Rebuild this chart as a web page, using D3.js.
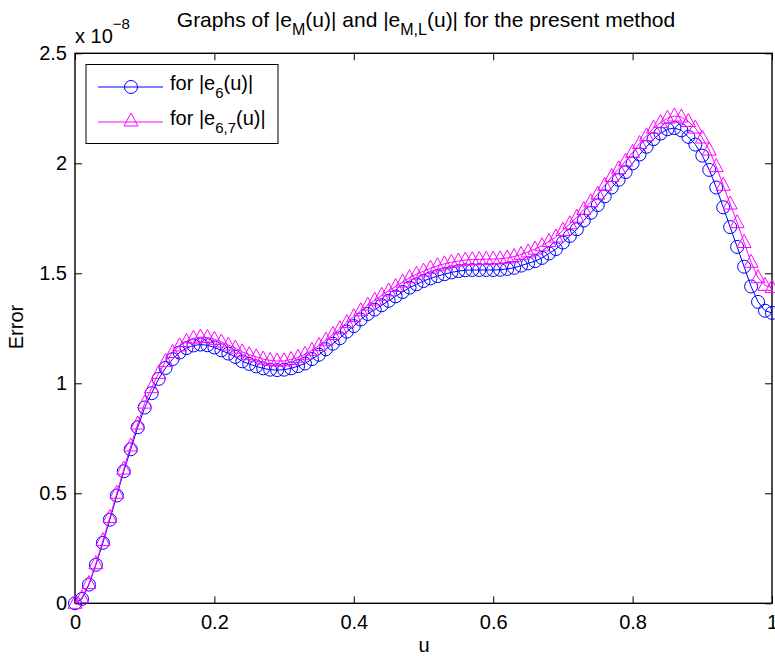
<!DOCTYPE html>
<html>
<head>
<meta charset="utf-8">
<script src="https://cdn.jsdelivr.net/npm/d3@7"></script>
<style>
  body { margin: 0; background: #fff; }
  svg { display: block; font-family: "Liberation Sans", Arial, Helvetica, sans-serif; }
</style>
</head>
<body>
<svg id="chart" width="775" height="656"></svg>
<script>
// ---- data (values in units of 1e-8) ----
const u = [0,0.01,0.02,0.03,0.04,0.05,0.06,0.07,0.08,0.09,
  0.10,0.11,0.12,0.13,0.14,0.15,0.16,0.17,0.18,0.19,
  0.20,0.21,0.22,0.23,0.24,0.25,0.26,0.27,0.28,0.29,
  0.30,0.31,0.32,0.33,0.34,0.35,0.36,0.37,0.38,0.39,
  0.40,0.41,0.42,0.43,0.44,0.45,0.46,0.47,0.48,0.49,
  0.50,0.51,0.52,0.53,0.54,0.55,0.56,0.57,0.58,0.59,
  0.60,0.61,0.62,0.63,0.64,0.65,0.66,0.67,0.68,0.69,
  0.70,0.71,0.72,0.73,0.74,0.75,0.76,0.77,0.78,0.79,
  0.80,0.81,0.82,0.83,0.84,0.85,0.86,0.87,0.88,0.89,
  0.90,0.91,0.92,0.93,0.94,0.95,0.96,0.97,0.98,0.99,1.00];

const errM = [0,0.02,0.085,0.175,0.275,0.38,0.49,0.60,0.70,0.80,
  0.89,0.955,1.02,1.07,1.11,1.14,1.16,1.172,1.176,1.173,
  1.163,1.15,1.135,1.12,1.10,1.088,1.077,1.068,1.062,1.06,
  1.062,1.068,1.078,1.09,1.11,1.13,1.155,1.18,1.205,1.235,
  1.26,1.29,1.315,1.335,1.355,1.375,1.395,1.415,1.435,1.45,
  1.465,1.477,1.487,1.496,1.504,1.51,1.514,1.515,1.515,1.515,
  1.515,1.516,1.52,1.525,1.535,1.545,1.555,1.57,1.59,1.61,
  1.64,1.67,1.70,1.74,1.775,1.81,1.85,1.89,1.925,1.96,
  2.00,2.04,2.075,2.11,2.135,2.155,2.16,2.15,2.12,2.085,
  2.035,1.97,1.89,1.80,1.71,1.62,1.53,1.44,1.37,1.33,1.32];

const errML = [0,0.025,0.09,0.18,0.285,0.39,0.50,0.61,0.715,0.815,
  0.91,0.98,1.045,1.10,1.14,1.17,1.19,1.205,1.21,1.208,
  1.20,1.188,1.174,1.16,1.143,1.13,1.12,1.11,1.104,1.101,
  1.102,1.108,1.118,1.132,1.15,1.172,1.196,1.222,1.248,1.276,
  1.303,1.33,1.355,1.378,1.40,1.42,1.44,1.46,1.48,1.496,
  1.51,1.523,1.534,1.543,1.55,1.556,1.56,1.562,1.563,1.564,
  1.565,1.566,1.57,1.576,1.586,1.597,1.61,1.625,1.645,1.665,
  1.695,1.725,1.755,1.79,1.825,1.86,1.90,1.94,1.975,2.01,
  2.05,2.09,2.125,2.16,2.185,2.205,2.215,2.21,2.19,2.16,
  2.115,2.06,1.985,1.90,1.815,1.73,1.64,1.55,1.48,1.445,1.435];

const xTicks = [0, 0.2, 0.4, 0.6, 0.8, 1];
const xTickLabels = ["0", "0.2", "0.4", "0.6", "0.8", "1"];
const yTicks = [0, 0.5, 1, 1.5, 2, 2.5];
const yTickLabels = ["0", "0.5", "1", "1.5", "2", "2.5"];

// ---- layout ----
const L = 75, R = 772, T = 53.3, B = 603.3;
const svg = d3.select("#chart");
const x = d3.scaleLinear().domain([0, 1]).range([L, R]);
const y = d3.scaleLinear().domain([0, 2.5]).range([B, T]);
const fs = 20, fsSub = 15;
const tickLen = 7;

// axes (ticks inside, MATLAB-style box)
const axB = d3.axisBottom(x).tickValues(xTicks).tickFormat((d, i) => xTickLabels[i]).tickSizeInner(-tickLen).tickSizeOuter(0).tickPadding(12);
const axT = d3.axisTop(x).tickValues(xTicks).tickFormat("").tickSizeInner(-tickLen).tickSizeOuter(0);
const axL = d3.axisLeft(y).tickValues(yTicks).tickFormat((d, i) => yTickLabels[i]).tickSizeInner(-tickLen).tickSizeOuter(0).tickPadding(8);
const axR = d3.axisRight(y).tickValues(yTicks).tickFormat("").tickSizeInner(-tickLen).tickSizeOuter(0);

function style(g) {
  g.select(".domain").remove();
  g.selectAll(".tick line").attr("stroke", "#000").attr("stroke-width", 1);
  g.selectAll(".tick text").attr("fill", "#000").style("font-size", fs + "px").style("font-family", "'Liberation Sans', Arial, sans-serif");
}
svg.append("g").attr("transform", `translate(0,${B})`).call(axB).call(style);
svg.append("g").attr("transform", `translate(0,${T})`).call(axT).call(style);
svg.append("g").attr("transform", `translate(${L},0)`).call(axL).call(style);
svg.append("g").attr("transform", `translate(${R},0)`).call(axR).call(style);

svg.append("rect").attr("x", L).attr("y", T).attr("width", R - L).attr("height", B - T)
  .attr("fill", "none").attr("stroke", "#000").attr("stroke-width", 1.4);

// ---- data series ----
const blue = "#0000ff", mag = "#ff00ff";
const pts1 = u.map((d, i) => [d, errM[i]]);
const pts2 = u.map((d, i) => [d, errML[i]]);
const line = d3.line().x(d => x(d[0])).y(d => y(d[1]));

const triPath = "M0,-8L7,5L-7,5Z";

const g = svg.append("g");
g.append("path").datum(pts1).attr("d", line).attr("fill", "none").attr("stroke", blue).attr("stroke-width", 1);
g.selectAll("circle.m1").data(pts1).enter().append("circle").attr("class", "m1")
  .attr("cx", d => x(d[0])).attr("cy", d => y(d[1])).attr("r", 6.5)
  .attr("fill", "none").attr("stroke", blue).attr("stroke-width", 1);

g.append("path").datum(pts2).attr("d", line).attr("fill", "none").attr("stroke", mag).attr("stroke-width", 1);
g.selectAll("path.m2").data(pts2).enter().append("path").attr("class", "m2")
  .attr("d", triPath).attr("transform", d => `translate(${x(d[0])},${y(d[1])})`)
  .attr("fill", "none").attr("stroke", mag).attr("stroke-width", 1);

// ---- legend ----
const lg = svg.append("g");
lg.append("rect").attr("x", 86).attr("y", 64.5).attr("width", 192).attr("height", 79)
  .attr("fill", "#fff").attr("stroke", "#000").attr("stroke-width", 1);
const rows = [
  {y: 87, color: blue, type: "circle", main: "e", sub: "6"},
  {y: 122, color: mag, type: "tri", main: "e", sub: "6,7"}
];
rows.forEach(r => {
  lg.append("line").attr("x1", 98).attr("x2", 163).attr("y1", r.y).attr("y2", r.y).attr("stroke", r.color).attr("stroke-width", 1);
  if (r.type === "circle") {
    lg.append("circle").attr("cx", 131).attr("cy", r.y).attr("r", 6.5).attr("fill", "none").attr("stroke", r.color);
  } else {
    lg.append("path").attr("d", triPath).attr("transform", `translate(131,${r.y - 1})`).attr("fill", "none").attr("stroke", r.color);
  }
  const t = lg.append("text").attr("x", 170).attr("y", r.y + 3).style("font-size", fs + "px").attr("fill", "#000");
  t.append("tspan").text("for |" + r.main);
  t.append("tspan").attr("dy", 8).style("font-size", fsSub + "px").text(r.sub);
  t.append("tspan").attr("dy", -8).text("(u)|");
});

// ---- title and labels ----
const title = svg.append("text").attr("x", 426).attr("y", 27).attr("text-anchor", "middle")
  .style("font-size", "21px").attr("fill", "#000");
title.append("tspan").text("Graphs of |e");
title.append("tspan").attr("dy", 8).style("font-size", "16px").text("M");
title.append("tspan").attr("dy", -8).text("(u)| and |e");
title.append("tspan").attr("dy", 8).style("font-size", "16px").text("M,L");
title.append("tspan").attr("dy", -8).text("(u)| for the present method");

const expo = svg.append("text").attr("x", 75).attr("y", 43).style("font-size", fs + "px").attr("fill", "#000");
expo.append("tspan").text("x 10");
expo.append("tspan").attr("dy", -14).style("font-size", fsSub + "px").text("\u22128");

svg.append("text").attr("x", 424).attr("y", 652).attr("text-anchor", "middle")
  .style("font-size", fs + "px").attr("fill", "#000").text("u");
svg.append("text").attr("transform", "translate(23,327) rotate(-90)").attr("text-anchor", "middle")
  .style("font-size", fs + "px").attr("fill", "#000").text("Error");
</script>
</body>
</html>
